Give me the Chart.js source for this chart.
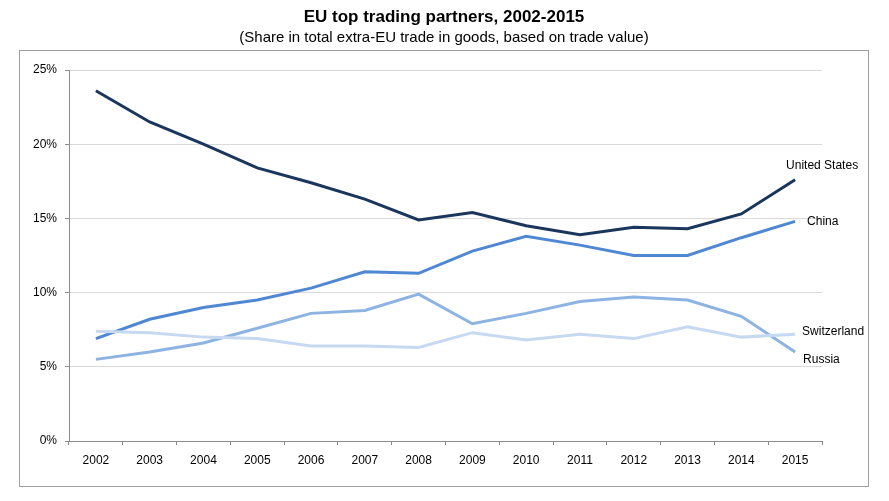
<!DOCTYPE html>
<html>
<head>
<meta charset="utf-8">
<script src="https://cdn.jsdelivr.net/npm/chart.js@4"></script>
<style>
  html, body { margin: 0; padding: 0; background: #fff; }
  #wrap { width: 889px; height: 501px; }
</style>
</head>
<body>
<div id="wrap"><canvas id="chart" width="889" height="501"></canvas></div>
<script>
const years = ["2002", "2003", "2004", "2005", "2006", "2007", "2008",
    "2009", "2010", "2011", "2012", "2013", "2014", "2015"];
const unitedStates = [23.6, 21.5, 20.0, 18.4, 17.4, 16.3, 14.9, 15.4, 14.5, 13.9, 14.4, 14.3, 15.3, 17.6];
const china = [6.9, 8.2, 9.0, 9.5, 10.3, 11.4, 11.3, 12.8, 13.8, 13.2, 12.5, 12.5, 13.7, 14.8];
const russia = [5.5, 6.0, 6.6, 7.6, 8.6, 8.8, 9.9, 7.9, 8.6, 9.4, 9.7, 9.5, 8.4, 6.0];
const switzerland = [7.4, 7.3, 7.0, 6.9, 6.4, 6.4, 6.3, 7.3, 6.8, 7.2, 6.9, 7.7, 7.0, 7.2];
const yTicks = [0, 5, 10, 15, 20, 25];

const palette = {
    us: "#1b365d",
    china: "#4f87d2",
    russia: "#8db3e2",
    switzerland: "#c6d9f1",
    grid: "#d9d9d9",
    axis: "#8c8c8c",
    frame: "#a0a0a0",
    text: "#000000",
};

const tickFont = { family: "'Liberation Sans', Arial, sans-serif", size: 12 };

// end-of-line labels, offsets relative to the last point
const endLabels = {
    "United States": { dx: 27, dy: -14, align: "center" },
    "China": { dx: 12, dy: 0, align: "left" },
    "Switzerland": { dx: 7, dy: -2, align: "left" },
    "Russia": { dx: 8, dy: 8, align: "left" },
};

const framePlugin = {
    id: "frameAndTitle",
    beforeDraw(chart) {
        const ctx = chart.ctx;
        ctx.save();
        ctx.fillStyle = "#fff";
        ctx.fillRect(0, 0, chart.width, chart.height);
        ctx.strokeStyle = palette.frame;
        ctx.lineWidth = 1;
        ctx.strokeRect(19.5, 50.5, 849, 436);
        ctx.fillStyle = palette.text;
        ctx.textAlign = "center";
        ctx.textBaseline = "alphabetic";
        ctx.font = "bold 17px 'Liberation Sans', Arial, sans-serif";
        ctx.fillText("EU top trading partners, 2002-2015", 444, 21.5);
        ctx.font = "15px 'Liberation Sans', Arial, sans-serif";
        ctx.fillText("(Share in total extra-EU trade in goods, based on trade value)", 444, 41.5);
        ctx.restore();
    },
    afterDatasetsDraw(chart) {
        const ctx = chart.ctx;
        ctx.save();
        ctx.fillStyle = palette.text;
        ctx.font = "12px 'Liberation Sans', Arial, sans-serif";
        ctx.textBaseline = "middle";
        chart.data.datasets.forEach((ds, i) => {
            const cfg = endLabels[ds.label];
            const pts = chart.getDatasetMeta(i).data;
            const last = pts[pts.length - 1];
            if (!cfg || !last) return;
            ctx.textAlign = cfg.align;
            ctx.fillText(ds.label, last.x + cfg.dx, last.y + cfg.dy);
        });
        ctx.restore();
    },
};

function line(label, data, color) {
    return {
        label,
        data,
        borderColor: color,
        backgroundColor: color,
        borderWidth: 3,
        pointRadius: 0,
        tension: 0,
        fill: false,
    };
}

new Chart(document.getElementById("chart"), {
    type: "line",
    data: {
        labels: years,
        datasets: [
            line("Switzerland", switzerland, palette.switzerland),
            line("Russia", russia, palette.russia),
            line("China", china, palette.china),
            line("United States", unitedStates, palette.us),
        ],
    },
    options: {
        responsive: false,
        animation: false,
        layout: { padding: { left: 0, right: 67, top: 70, bottom: 0 } },
        plugins: {
            legend: { display: false },
            tooltip: { enabled: false },
            title: { display: false },
        },
        scales: {
            x: {
                offset: true,
                grid: {
                    offset: true,
                    drawOnChartArea: false,
                    drawTicks: true,
                    tickLength: 4,
                    color: palette.axis,
                },
                border: { color: palette.axis, width: 1 },
                ticks: { color: palette.text, font: tickFont, padding: 8, maxRotation: 0 },
                afterFit(axis) { axis.height = 60; },
            },
            y: {
                min: 0,
                max: 25,
                afterBuildTicks(axis) { axis.ticks = yTicks.map((v) => ({ value: v })); },
                grid: {
                    color: palette.grid,
                    tickColor: palette.axis,
                    tickLength: 4,
                    lineWidth: 1,
                },
                border: { color: palette.axis, width: 1 },
                ticks: {
                    color: palette.text,
                    font: tickFont,
                    padding: 8,
                    callback: (v) => v + "%",
                },
                afterFit(axis) { axis.width = 69; },
            },
        },
    },
    plugins: [framePlugin],
});
</script>
</body>
</html>
